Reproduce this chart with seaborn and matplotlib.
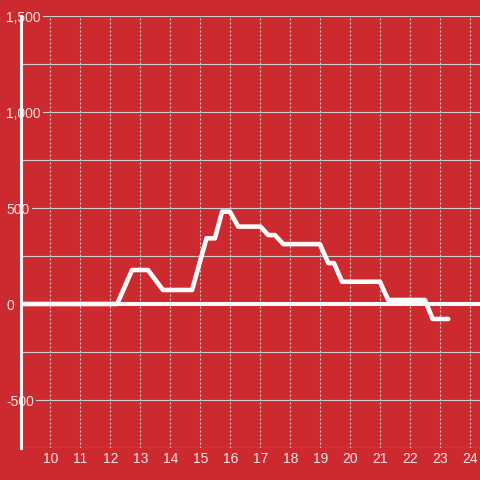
import matplotlib
matplotlib.use("Agg")
import matplotlib.pyplot as plt
import seaborn as sns
import pandas as pd
from matplotlib.ticker import FixedLocator

# data
x_vals = [9.0, 12.22, 12.72, 13.25, 13.75, 14.72, 15.2, 15.48, 15.72, 15.98,
          16.26, 17.0, 17.26, 17.48, 17.76, 18.98, 19.26, 19.45, 19.72, 20.98,
          21.26, 22.48, 22.74, 23.26]
y_vals = [0, 0, 177, 177, 73, 73, 342, 342, 481, 481,
          403, 403, 359, 359, 312, 312, 213, 213, 116, 116,
          21, 21, -78, -78]
x_ticks = list(range(10, 25))
y_ticks = [-500, 0, 500, 1000, 1500]
y_tick_labels = ["-500", "0", "500", "1,000", "1,500"]
y_minor = [-750, -250, 250, 750, 1250]

bg = "#cc2a2f"
txt = "#f0e4e4"
grid_c = "#cfcfcf"

sns.set_style("white")
plt.rcParams["font.family"] = ["Liberation Sans", "DejaVu Sans"]

df = pd.DataFrame({"x": x_vals, "y": y_vals})

fig = plt.figure(figsize=(4.8, 4.8), dpi=100, facecolor=bg)
ax = fig.add_axes([20.5 / 480, 32 / 480, 459.5 / 480, 432 / 480])
ax.set_facecolor(bg)

ax.axhline(0, color="#f8f8f8", lw=2.9, zorder=1.8)
sns.lineplot(data=df, x="x", y="y", sort=False, estimator=None,
             color="#fbfbfb", lw=3.3, ax=ax, zorder=2)

ax.set_xlim(9, 24.317)
ax.set_ylim(-750, 1500)

ax.set_xticks(x_ticks)
ax.set_xticklabels([str(t) for t in x_ticks])
ax.set_yticks(y_ticks)
ax.set_yticklabels(y_tick_labels)
ax.yaxis.set_minor_locator(FixedLocator(y_minor))

ax.grid(True, axis="y", which="both", color=grid_c, lw=0.8, linestyle="-")
ax.grid(True, axis="x", which="major", color=grid_c, lw=0.8, linestyle=(0, (1.8, 1.8)))

ax.tick_params(axis="x", length=0, pad=3, labelsize=10, labelcolor=txt)
ax.tick_params(axis="y", which="both", length=0, pad=10.3, labelsize=10, labelcolor=txt)
for lab in ax.get_yticklabels():
    lab.set_horizontalalignment("left")
    lab.set_bbox(dict(facecolor=bg, edgecolor="none", pad=1.5))

for s in ["top", "right", "bottom"]:
    ax.spines[s].set_visible(False)
ax.spines["left"].set_color("#f4f4f4")
ax.spines["left"].set_linewidth(2.2)
ax.spines["left"].set_zorder(3)

ax.set_xlabel("")
ax.set_ylabel("")

fig.savefig("out.png", dpi=100, facecolor=bg)
